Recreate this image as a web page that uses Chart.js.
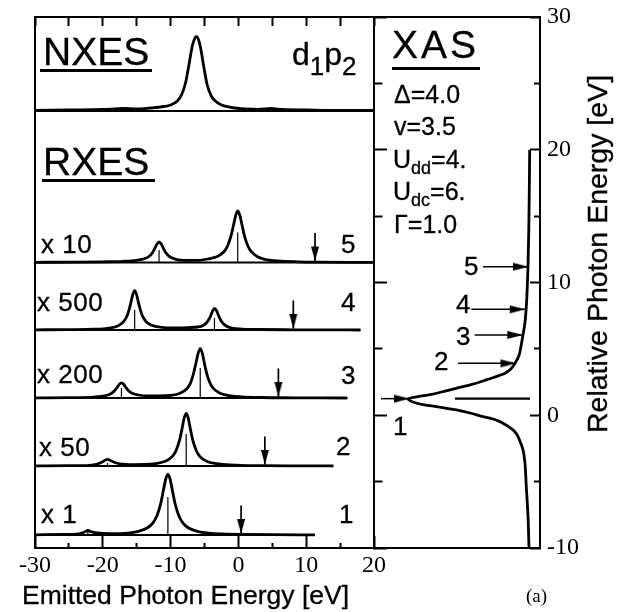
<!DOCTYPE html>
<html><head><meta charset="utf-8">
<script src="https://cdn.jsdelivr.net/npm/chart.js@4.4.1/dist/chart.umd.min.js"></script>
<style>
html,body{margin:0;padding:0;background:#fff;}
#wrap{position:relative;width:625px;height:612px;overflow:hidden;background:#fff;}
#wrap canvas{position:absolute;left:0;top:0;}
.t{position:absolute;white-space:nowrap;line-height:1;color:#000;-webkit-text-stroke:0.3px #000;}
.ul{position:absolute;background:#000;}
</style></head>
<body><div id="wrap"><canvas id="left" width="625" height="612"></canvas><canvas id="right" width="625" height="612"></canvas></div>
<script>
// ================= DATA =================
const emittedTickLabels = [-30, -20, -10, 0, 10, 20];
const photonTickLabels = [-10, 0, 10, 20, 30];

// [emitted photon energy (eV), plotted intensity (arb. units)]
const nxes = [[-30,0.05],[-25,0.1],[-20,0.15],[-17,0.25],[-15,0.2],[-13,0.3],[-11,0.45],[-10,0.6],[-9,1.0],[-8.4,1.6],[-7.8,2.8],[-7.3,4.6],[-6.8,6.5],[-6.45,7.25],[-6.2,7.45],[-5.95,7.25],[-5.6,6.4],[-5.1,4.4],[-4.6,2.6],[-4.0,1.5],[-3.4,1.0],[-2.5,0.6],[-1,0.35],[1,0.2],[3,0.15],[4.8,0.25],[6.5,0.15],[10,0.1],[15,0.05],[20,0.05]];
const rxes5 = [[-30,0.02],[-24,0.04],[-20,0.07],[-17,0.12],[-15,0.22],[-14,0.35],[-13.2,0.6],[-12.7,0.95],[-12.3,1.45],[-12.0,1.85],[-11.7,2.06],[-11.4,1.87],[-11.1,1.47],[-10.7,0.98],[-10.2,0.62],[-9.2,0.32],[-8,0.22],[-6,0.22],[-4.5,0.35],[-3.1,0.6],[-2.1,1.1],[-1.6,1.65],[-1.1,2.65],[-0.7,3.8],[-0.4,4.7],[-0.1,5.17],[0.2,4.75],[0.5,3.85],[0.9,2.65],[1.4,1.65],[1.9,1.08],[2.9,0.55],[3.9,0.32],[5.9,0.15],[8.9,0.07],[12,0.04],[16,0.02],[20,0.01]];
const rxes4 = [[-30,0.02],[-25,0.04],[-21.3,0.08],[-19.3,0.17],[-17.8,0.41],[-17,0.79],[-16.5,1.3],[-16.15,1.97],[-15.9,2.62],[-15.6,3.49],[-15.3,3.93],[-15.0,3.49],[-14.7,2.63],[-14.45,1.99],[-14.1,1.33],[-13.6,0.83],[-12.8,0.47],[-11.3,0.26],[-9.3,0.2],[-7.5,0.24],[-6.0,0.3],[-5.2,0.45],[-4.7,0.72],[-4.3,1.12],[-4.1,1.4],[-3.8,1.92],[-3.53,2.17],[-3.2,1.9],[-2.9,1.4],[-2.7,1.1],[-2.3,0.68],[-1.8,0.4],[-1.0,0.2],[0.5,0.09],[3,0.05],[8,0.02],[12,0.01],[18,0]];
const rxes3 = [[-30,0.01],[-25,0.03],[-21.3,0.09],[-19.75,0.21],[-18.75,0.45],[-18.2,0.78],[-17.85,1.09],[-17.55,1.39],[-17.25,1.52],[-16.95,1.4],[-16.65,1.1],[-16.3,0.8],[-15.75,0.5],[-14.75,0.3],[-13.2,0.2],[-11.6,0.2],[-10.1,0.25],[-8.6,0.48],[-7.6,0.93],[-7.1,1.44],[-6.6,2.5],[-6.25,3.54],[-5.93,4.49],[-5.63,4.93],[-5.33,4.48],[-5.03,3.52],[-4.68,2.47],[-4.13,1.42],[-3.63,0.91],[-2.63,0.45],[-1.1,0.21],[0.4,0.12],[3.4,0.05],[8,0.02],[12,0.01],[16,0]];
const rxes2 = [[-30,0.01],[-25,0.03],[-22,0.07],[-20.8,0.2],[-20.1,0.4],[-19.6,0.6],[-19.3,0.66],[-19.0,0.6],[-18.5,0.42],[-17.5,0.22],[-15.5,0.14],[-13.7,0.15],[-12.2,0.24],[-10.7,0.5],[-9.7,0.98],[-9.2,1.54],[-8.65,2.66],[-8.3,3.77],[-8.0,4.8],[-7.7,5.27],[-7.4,4.79],[-7.1,3.76],[-6.75,2.64],[-6.2,1.52],[-5.7,0.97],[-4.7,0.48],[-3.2,0.23],[-1.7,0.13],[0.3,0.07],[3.3,0.04],[8,0.02],[14,0.01]];
const rxes1 = [[-30,0.02],[-26,0.05],[-23.5,0.12],[-22.7,0.3],[-22.2,0.45],[-21.7,0.32],[-20.5,0.18],[-18.4,0.13],[-16.4,0.19],[-14.9,0.34],[-13.4,0.72],[-12.6,1.21],[-12.0,1.95],[-11.5,3.03],[-11.0,4.68],[-10.7,5.65],[-10.4,6.07],[-10.1,5.65],[-9.8,4.68],[-9.3,3.03],[-8.8,1.95],[-8.2,1.21],[-7.4,0.72],[-5.9,0.34],[-4.4,0.19],[-2.4,0.11],[0.6,0.06],[5,0.03],[11.3,0.02]];

// discrete final-state sticks [energy, height]
const sticks5 = [[-11.7,1.25],[-0.1,3.0]];
const sticks4 = [[-15.3,2.0],[-3.53,1.2]];
const sticks3 = [[-17.25,1.0],[-5.63,3.0]];
const sticks2 = [[-19.3,0.3],[-7.7,3.2]];
const sticks1 = [[-22.2,0.3],[-10.4,3.8]];

// spectra 1..5
const multiplierLabels = ['x 1', 'x 50', 'x 200', 'x 500', 'x 10'];
const spectrumNumbers = ['1', '2', '3', '4', '5'];
const excitationEnergy = [0.4, 3.9, 5.9, 8.1, 11.3];   // arrows on the emission axis
const spectrumEnd = [11.3, 14.0, 16.1, 18.0, 20];      // upper end of each computed spectrum

// XAS: [relative photon energy (eV), intensity]
const xas = [[-10,0.2],[-7.6,0.3],[-5.4,0.47],[-3.4,0.63],[-2.6,0.8],[-1.9,1.13],[-1.4,1.45],[-1.1,1.8],[-0.6,2.8],[-0.3,3.7],[-0.1,4.8],[0.15,6.0],[0.4,7.47],[0.6,9.0],[0.8,10.8],[1.0,11.8],[1.22,12.3],[1.4,11.3],[1.55,10.1],[1.8,8.7],[2.03,7.5],[2.3,6.0],[2.66,4.5],[3.16,2.6],[3.5,2.0],[3.91,1.6],[4.5,1.2],[5.2,1.0],[6.05,0.8],[7,0.6],[8.18,0.47],[9.5,0.38],[11.2,0.3],[14,0.22],[17,0.17],[20,0.13]];
const xasArrowEnergy = [1.25, 3.91, 6.05, 7.98, 11.19];
const xasArrowTip = [12.2, 1.55, 0.87, 0.63, 0.3];
const xasLevelEnergy = 1.25;
const xasLevelIntensity = 7.6;

// ================= LAYOUT (positions / sizes / styles) =================
const W = 625, H = 612;
const leftArea = {left: 35, right: 374, top: 17, bottom: 548};
const rightArea = {left: 374, right: 540, top: 17, bottom: 548};
const stackMax = 53.1;
const nxesOffset = 43.7;
const spectrumOffset = [1.3, 8.2, 15.0, 21.8, 28.55];
const arrowTop = 2.9, arrowTipOff = 0.2;
const xasArrowTail = [15.0, 7.3, 5.63, 5.97, 4.8];
const xasRange = [-0.9, 15.7];
const CURVE_W = 2.8;

function head(dir, L, Wd) {
  const c = document.createElement('canvas');
  const S = 2 * L + 2;
  if (dir === 'down') { c.width = Wd + 2; c.height = S; } else { c.width = S; c.height = Wd + 2; }
  const g = c.getContext('2d');
  g.fillStyle = '#000'; g.beginPath();
  if (dir === 'down') { const cx = c.width / 2, tip = c.height / 2; g.moveTo(cx - Wd / 2, tip - L); g.lineTo(cx + Wd / 2, tip - L); g.lineTo(cx, tip + 0.5); }
  else { const cy = c.height / 2, tip = c.width / 2; g.moveTo(tip - L, cy - Wd / 2); g.lineTo(tip - L, cy + Wd / 2); g.lineTo(tip + 0.5, cy); }
  g.closePath(); g.fill();
  return c;
}
const downHead = head('down', 14, 8);
const rightHead = head('right', 15, 8);

function ds(points, width, extra) {
  return Object.assign({data: points, borderColor: '#000', backgroundColor: '#000', borderWidth: width,
    pointRadius: 0, fill: false, tension: 0, borderJoinStyle: 'round'}, extra || {});
}
const fixSize = (dim, val) => s => { s[dim] = val; s.paddingTop = 0; s.paddingBottom = 0; s.paddingLeft = 0; s.paddingRight = 0; };

// ---------- left panel datasets ----------
const leftSets = [];
const spectra = [rxes1, rxes2, rxes3, rxes4, rxes5];
const stickSets = [sticks1, sticks2, sticks3, sticks4, sticks5];
leftSets.push(ds([{x: -30, y: nxesOffset}, {x: 20, y: nxesOffset}], 2.2));
leftSets.push(ds(nxes.map(([e, v]) => ({x: e, y: nxesOffset + v})), CURVE_W, {cubicInterpolationMode: 'monotone'}));
spectra.forEach((sp, i) => {
  const off = spectrumOffset[i];
  leftSets.push(ds([{x: -30, y: off}, {x: spectrumEnd[i], y: off}], 2.2));
  stickSets[i].forEach(([e, h]) => leftSets.push(ds([{x: e, y: off}, {x: e, y: off + h}], 1.2)));
  leftSets.push(ds(sp.map(([e, v]) => ({x: e, y: off + v})), CURVE_W, {cubicInterpolationMode: 'monotone'}));
  leftSets.push(ds([{x: excitationEnergy[i], y: off + arrowTop}, {x: excitationEnergy[i], y: off + arrowTipOff}], 1.7,
    {pointStyle: downHead, pointRadius: c => c.dataIndex === 1 ? 3 : 0}));
});

const minorDash = (labels, n) => c => (c.tick && !labels.includes(c.tick.value)) ? [n, 100] : [];

new Chart(document.getElementById('left'), {
  type: 'line',
  data: {datasets: leftSets},
  options: {
    responsive: false, animation: false, events: [],
    layout: {padding: {left: leftArea.left, right: W - leftArea.right, top: leftArea.top, bottom: 0}},
    plugins: {legend: {display: false}, tooltip: {enabled: false}},
    scales: {
      x: {type: 'linear', position: 'bottom', min: -30, max: 20,
        ticks: {stepSize: 5, autoSkip: false, maxRotation: 0, padding: 15, color: '#000',
          font: {family: '"Liberation Serif", serif', size: 24},
          callback: v => emittedTickLabels.includes(v) ? String(v) : ''},
        grid: {drawOnChartArea: false, drawTicks: true, tickLength: -12, tickWidth: 2, tickColor: '#000',
          tickBorderDash: minorDash(emittedTickLabels, 6)},
        border: {display: true, color: '#000', width: 2},
        afterFit: fixSize('height', H - leftArea.bottom)},
      xTop: {type: 'linear', axis: 'x', position: 'top', min: -30, max: 20,
        ticks: {stepSize: 5, display: false},
        grid: {drawOnChartArea: false, drawTicks: true, tickLength: -9, tickWidth: 2, tickColor: '#000'},
        border: {display: true, color: '#000', width: 2},
        afterFit: fixSize('height', 0)},
      y: {type: 'linear', position: 'left', min: 0, max: stackMax,
        ticks: {display: false},
        grid: {drawOnChartArea: false, drawTicks: false},
        border: {display: true, color: '#000', width: 2},
        afterFit: fixSize('width', 0)}
    }
  }
});

// ---------- right panel datasets ----------
const rightSets = [];
rightSets.push(ds(xas.map(([e, v]) => ({x: v, y: e})), CURVE_W, {cubicInterpolationMode: 'monotone'}));
rightSets.push(ds([{x: xasLevelIntensity, y: xasLevelEnergy}, {x: 0.1, y: xasLevelEnergy}], 2.2));
xasArrowEnergy.forEach((e, i) => {
  rightSets.push(ds([{x: xasArrowTail[i], y: e}, {x: xasArrowTip[i], y: e}], 1.5,
    {pointStyle: rightHead, pointRadius: c => c.dataIndex === 1 ? 3 : 0}));
});

new Chart(document.getElementById('right'), {
  type: 'line',
  data: {datasets: rightSets},
  options: {
    indexAxis: 'y',
    responsive: false, animation: false, events: [],
    layout: {padding: {left: rightArea.left, right: 0, top: rightArea.top, bottom: H - rightArea.bottom}},
    plugins: {legend: {display: false}, tooltip: {enabled: false}},
    scales: {
      x: {type: 'linear', position: 'bottom', reverse: true, min: xasRange[0], max: xasRange[1],
        ticks: {display: false}, grid: {drawOnChartArea: false, drawTicks: false},
        border: {display: true, color: '#000', width: 2}, afterFit: fixSize('height', 0)},
      xT: {type: 'linear', axis: 'x', position: 'top', reverse: true, min: xasRange[0], max: xasRange[1],
        ticks: {display: false}, grid: {drawOnChartArea: false, drawTicks: false},
        border: {display: true, color: '#000', width: 2}, afterFit: fixSize('height', 0)},
      y: {type: 'linear', position: 'right', min: -10, max: 30,
        ticks: {stepSize: 5, autoSkip: false, padding: 17, color: '#000',
          font: {family: '"Liberation Serif", serif', size: 24},
          callback: v => photonTickLabels.includes(v) ? String(v) : ''},
        grid: {drawOnChartArea: false, drawTicks: true, tickLength: -10, tickWidth: 2, tickColor: '#000',
          tickBorderDash: minorDash(photonTickLabels, 7)},
        border: {display: true, color: '#000', width: 2},
        afterFit: fixSize('width', W - rightArea.right)},
      yL: {type: 'linear', axis: 'y', position: 'left', min: -10, max: 30,
        ticks: {stepSize: 5, display: false},
        grid: {drawOnChartArea: false, drawTicks: true, tickLength: -13, tickWidth: 2, tickColor: '#000',
          tickBorderDash: c => (c.tick && !photonTickLabels.includes(c.tick.value)) ? [0, 4.5, 8.5, 100] : []},
        border: {display: true, color: '#000', width: 2},
        afterFit: fixSize('width', 0)}
    }
  }
});

// ---------- text ----------
const wrap = document.getElementById('wrap');
const FAM = {sans: '"Liberation Sans", Arial, sans-serif', serif: '"Liberation Serif", "Times New Roman", serif'};
const ASC = {sans: 0.8465, serif: 0.8375};
function label(html, x, baseline, size, fam, style) {
  const d = document.createElement('div');
  d.className = 't';
  d.innerHTML = html;
  d.style.left = x + 'px';
  d.style.top = (baseline - ASC[fam] * size) + 'px';
  d.style.fontSize = size + 'px';
  d.style.fontFamily = FAM[fam];
  if (style) Object.assign(d.style, style);
  wrap.appendChild(d);
  return d;
}
function bar(x1, x2, y, h) {
  const d = document.createElement('div');
  d.className = 'ul';
  Object.assign(d.style, {left: x1 + 'px', top: y + 'px', width: (x2 - x1) + 'px', height: h + 'px'});
  wrap.appendChild(d);
}
const sub = (t, size, shift) => `<span style="font-size:${size}px;position:relative;top:${shift}px">${t}</span>`;
const ser = t => `<span style="font-family:${FAM.serif}">${t}</span>`;

label('NXES', 43, 65, 39, 'sans'); bar(40, 152, 69, 3);
label('RXES', 43, 175, 39, 'sans'); bar(42, 155, 179, 3);
label('XAS', 392, 58, 39, 'sans', {letterSpacing: '3px'}); bar(392, 480, 67, 3);
label('d' + sub('1', 26, 10) + 'p' + sub('2', 26, 10), 292, 65, 32, 'sans');

label(ser('&Delta;') + '=4.0', 394, 103, 25, 'sans');
label('v=3.5', 394, 135, 25, 'sans');
label('U' + sub('dd', 18, 6) + '=4.', 393, 168, 25, 'sans');
label('U' + sub('dc', 18, 6) + '=6.', 393, 200, 25, 'sans');
label(ser('&Gamma;') + '=1.0', 394, 233, 25, 'sans');

const multX = [41, 39, 37, 37, 41], multBase = [523, 456, 383, 311, 253];
const numX = [339, 336, 341, 341, 341], numBase = [523, 455, 384, 311, 253];
multiplierLabels.forEach((t, i) => label(t, multX[i], multBase[i], 26, 'sans', {letterSpacing: '0.5px'}));
spectrumNumbers.forEach((t, i) => label(t, numX[i], numBase[i], 26, 'sans'));

const xasNumX = [393, 434, 456, 456, 464], xasNumBase = [435, 370, 345, 313, 275];
spectrumNumbers.forEach((t, i) => label(t, xasNumX[i], xasNumBase[i], 26, 'sans'));

label('Emitted Photon Energy [eV]', 22, 604, 26.5, 'sans');
label('(a)', 526, 602, 19, 'serif', {webkitTextStroke: '0px'});
const rt = label('Relative Photon Energy [eV]', 0, 0, 28.5, 'sans');
rt.style.left = (607 - ASC.sans * 28.5) + 'px';
rt.style.top = '433px';
rt.style.transformOrigin = '0 0';
rt.style.transform = 'rotate(-90deg)';
</script></body></html>
